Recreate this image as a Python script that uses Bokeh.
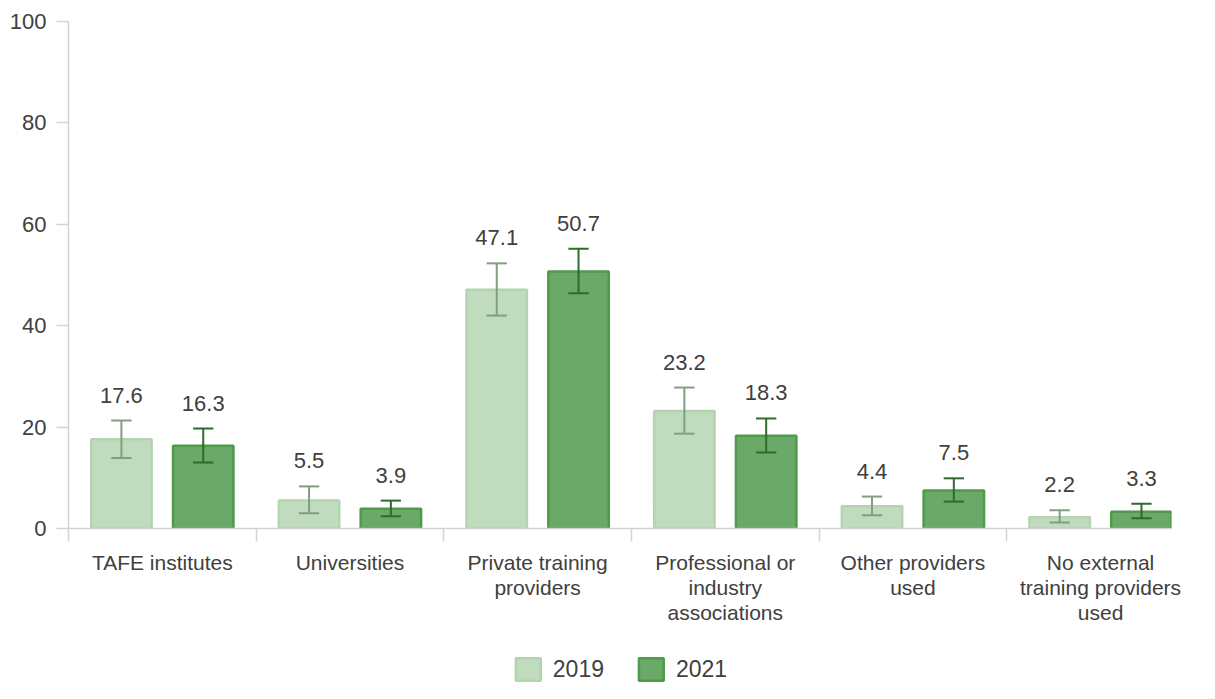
from bokeh.plotting import figure
from bokeh.layouts import column
from bokeh.models import Range1d, FixedTicker, Legend, LegendItem, ColumnDataSource
from bokeh.core.properties import value
from bokeh.embed import file_html
from bokeh.resources import INLINE

categories = ["TAFE institutes", "Universities", "Private training\nproviders",
              "Professional or\nindustry\nassociations", "Other providers\nused",
              "No external\ntraining providers\nused"]
years = ["2019", "2021"]
values_2019 = [17.6, 5.5, 47.1, 23.2, 4.4, 2.2]
values_2021 = [16.3, 3.9, 50.7, 18.3, 7.5, 3.3]
upper_2019 = [21.3, 8.3, 52.3, 27.8, 6.3, 3.6]
lower_2019 = [13.9, 3.0, 42.0, 18.7, 2.6, 1.2]
upper_2021 = [19.7, 5.5, 55.2, 21.7, 9.9, 4.9]
lower_2021 = [13.0, 2.4, 46.4, 15.0, 5.3, 2.0]
y_ticks = [0, 20, 40, 60, 80, 100]

FONT = "Liberation Sans"
TXT = "#404040"
AXC = "#d3d3d3"
FILLS = ["#c1dbbf", "#6aa967"]
LINES = ["#b3d4b0", "#4f9a4b"]
ERRS = ["#829e80", "#2f6b2d"]

p = figure(width=1199, height=638,
           min_border_left=68, min_border_right=0, min_border_top=21, min_border_bottom=110,
           x_range=Range1d(0, 5.878), y_range=Range1d(0, 100),
           output_backend="svg", toolbar_location=None, tools="")
p.outline_line_color = None
p.grid.visible = False

n = len(categories)
centers = [i + 0.5 for i in range(n)]
off = 0.218
bw = 0.322
cap = 0.054

series = [(values_2019, upper_2019, lower_2019, -off),
          (values_2021, upper_2021, lower_2021, off)]
for k, (vals, up, lo, o) in enumerate(series):
    xs = [c + o for c in centers]
    src = ColumnDataSource(dict(x=xs, top=vals, up=up, lo=lo,
                                xl=[x - cap for x in xs], xr=[x + cap for x in xs],
                                lab=[f"{v:.1f}" for v in vals]))
    p.vbar(x="x", top="top", width=bw, bottom=0, source=src,
           fill_color=FILLS[k], line_color=LINES[k], line_width=2.5)
    p.segment(x0="x", y0="lo", x1="x", y1="up", source=src, line_color=ERRS[k], line_width=2)
    p.segment(x0="xl", y0="up", x1="xr", y1="up", source=src, line_color=ERRS[k], line_width=2)
    p.segment(x0="xl", y0="lo", x1="xr", y1="lo", source=src, line_color=ERRS[k], line_width=2)
    p.text(x="x", y="up", text="lab", source=src, text_align="center", text_baseline="bottom",
           y_offset=-18, text_font=value(FONT), text_font_size="22px", text_color=TXT)

# y axis
ya = p.yaxis[0]
ya.ticker = FixedTicker(ticks=y_ticks)
ya.axis_line_color = AXC
ya.axis_line_width = 1.5
ya.major_tick_line_color = AXC
ya.major_tick_line_width = 1.5
ya.major_tick_out = 12
ya.major_tick_in = 0
ya.minor_tick_line_color = None
ya.major_label_standoff = 10
ya.major_label_text_font = FONT
ya.major_label_text_font_size = "22px"
ya.major_label_text_color = TXT

# x axis
xa = p.xaxis[0]
xa.ticker = FixedTicker(ticks=centers, minor_ticks=list(range(n + 1)))
xa.major_label_overrides = {c: lab for c, lab in zip(centers, categories)}
xa.axis_line_color = AXC
xa.axis_line_width = 1.5
xa.major_tick_line_color = None
xa.major_tick_out = 0
xa.major_tick_in = 0
xa.minor_tick_line_color = AXC
xa.minor_tick_line_width = 1.5
xa.minor_tick_out = 13
xa.minor_tick_in = 0
xa.major_label_standoff = 9
xa.major_label_text_font = FONT
xa.major_label_text_font_size = "21px"
xa.major_label_text_color = TXT
xa.major_label_text_line_height = 1.1

# legend strip (proxy swatches carry NaN data, so only the legend shows them)
lg = figure(width=1199, height=45, min_border=0, min_border_left=0, min_border_right=28,
            min_border_top=0, min_border_bottom=0,
            x_range=Range1d(0, 1), y_range=Range1d(0, 1),
            x_axis_location=None, y_axis_location=None,
            output_backend="svg", toolbar_location=None, tools="")
lg.outline_line_color = None
lg.grid.visible = False
items = []
for k, yr in enumerate(years):
    r = lg.vbar(x=[float("nan")], top=[float("nan")], width=0.1,
                fill_color=FILLS[k], line_color=LINES[k], line_width=2.5)
    items.append(LegendItem(label=yr, renderers=[r]))
legend = Legend(items=items, orientation="horizontal", location="bottom_center",
                glyph_width=31, glyph_height=28, label_standoff=10, spacing=31,
                padding=0, margin=0, border_line_color=None, background_fill_alpha=0,
                label_text_font=FONT, label_text_font_size="23px", label_text_color=TXT,
                label_height=28)
lg.add_layout(legend)

layout = column(p, lg, spacing=0)
open("out.html", "w").write(file_html(layout, INLINE))
